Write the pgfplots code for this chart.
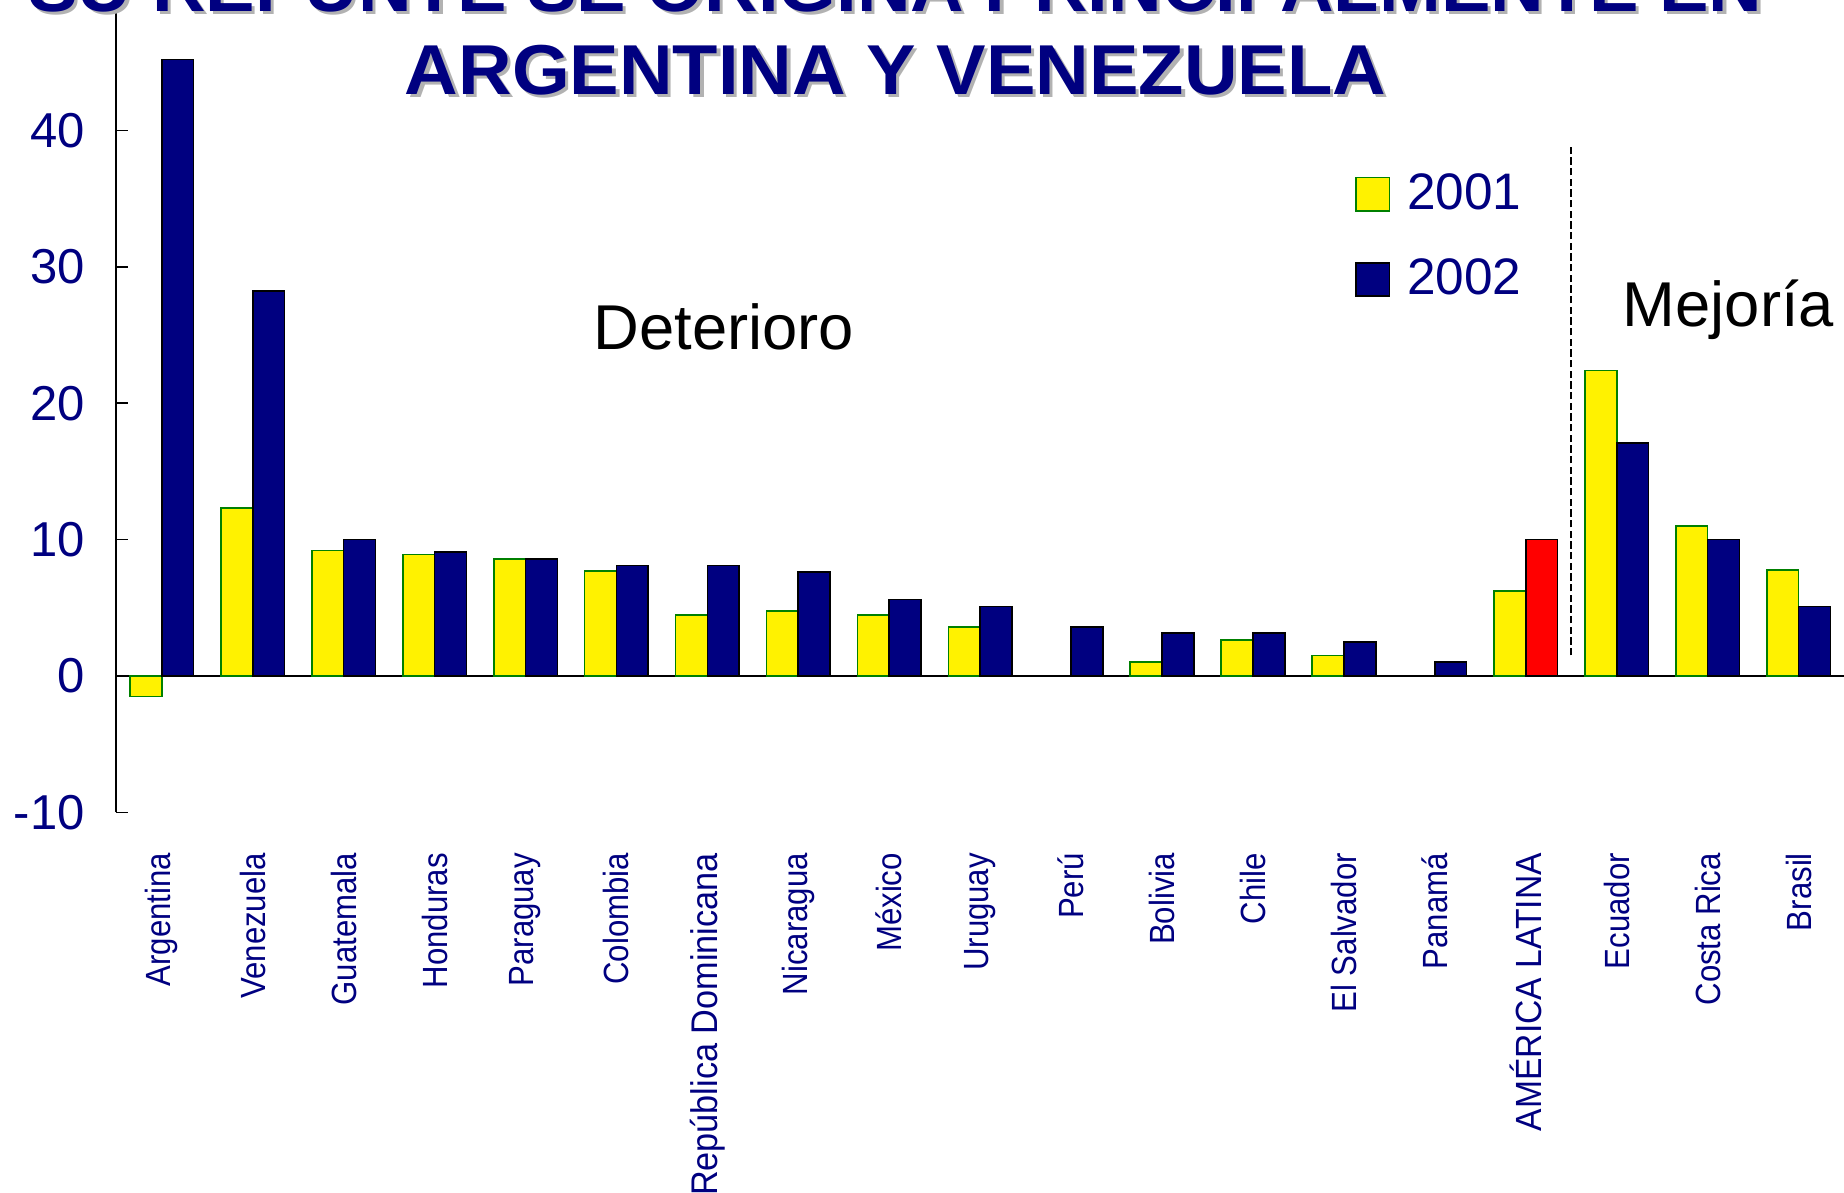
\documentclass[border=0pt]{standalone}
\usepackage{fontspec}
\setmainfont{Liberation Sans}
\newfontfamily\narrowfont[FakeStretch=0.89]{Liberation Sans}
\usepackage{graphicx}
\usepackage{pgfplots}
\pgfplotsset{compat=1.18}
\definecolor{navy}{RGB}{0,0,128}
\definecolor{dkgreen}{RGB}{0,128,0}

\begin{document}
\begin{tikzpicture}
\begin{axis}[
    name=ax,
    scale only axis, width=518.3pt, height=243.7pt,
    xmin=-0.5, xmax=18.5, ymin=-10, ymax=49.56,
    clip=false,
    axis x line=bottom, axis y line=left,
    axis line style={-, black, line width=0.5pt},
    x axis line style={draw=none},
    xtick={0,...,18},
    xticklabels={Argentina,Venezuela,Guatemala,Honduras,Paraguay,Colombia,
        {\scalebox{1.1}[1.06]{República Dominicana}\hspace{5pt}},Nicaragua,México,Uruguay,Perú,Bolivia,Chile,El Salvador,Panamá,
        {\scalebox{1.08}[1.04]{AMÉRICA LATINA}\hspace{5pt}},Ecuador,Costa Rica,Brasil},
    xtick style={draw=none},
    xticklabel style={yshift=-8.7pt, rotate=90, anchor=east, text=navy, font=\narrowfont\fontsize{10.5}{12}\selectfont},
    ytick={-10,0,10,20,30,40},
    tick align=inside, major tick length=3.5pt,
    ytick style={black, line width=0.5pt},
    yticklabel style={xshift=-6pt, text=navy, font=\fontsize{14.7}{16}\selectfont},
    /pgf/number format/assume math mode=true,
    extra y ticks={0}, extra y tick labels={},
    extra y tick style={grid=major, major grid style={black, line width=0.6pt}},
    legend style={draw=none, fill=none, inner sep=0pt, at={(axis cs:13.12,37.35)}, anchor=north west,
        font=\fontsize{15.4}{18}\selectfont, text=navy, row sep=9.3pt},
    legend cell align=left,
    legend image code/.code={\draw[#1] (0pt,-5pt) rectangle (10pt,5pt); \path (13pt,0pt);},
]
% 2001
\addplot[ybar, bar width=0.35, bar shift=-0.175, fill=yellow, draw=dkgreen, line width=0.5pt] coordinates {
    (0,-1.5) (1,12.3) (2,9.2) (3,8.9) (4,8.55) (5,7.7) (6,4.45) (7,4.75) (8,4.45) (9,3.6)
    (11,1.0) (12,2.65) (13,1.5) (15,6.25) (16,22.4) (17,11.0) (18,7.75)
};
\addlegendentry{2001}
% 2002
\addplot[ybar, bar width=0.35, bar shift=0.175, fill=navy, draw=black, line width=0.5pt] coordinates {
    (0,45.2) (1,28.2) (2,10.0) (3,9.1) (4,8.55) (5,8.1) (6,8.1) (7,7.6) (8,5.6) (9,5.1)
    (10,3.6) (11,3.15) (12,3.15) (13,2.5) (14,1.0) (16,17.1) (17,10.0) (18,5.1)
};
\addlegendentry{2002}
% America Latina 2002 in red
\addplot[ybar, bar width=0.35, bar shift=0.175, fill=red, draw=black, line width=0.5pt, forget plot] coordinates {
    (15,10.0)
};
\addplot[black, line width=0.5pt, dash pattern=on 2.2pt off 1pt, forget plot] coordinates {(15.5,1.5) (15.5,39)};

\node[anchor=base, font=\fontsize{19}{22}\selectfont] at (axis cs:6.18,23.9) {Deterioro};
\node[anchor=base, font=\fontsize{19}{22}\selectfont] at (axis cs:17.23,25.6) {Mejoría};

% title (first line is cut by the top edge)
\node[anchor=base, text=black!30, font=\fontsize{21.2}{25}\selectfont\bfseries]
    at ([xshift=1pt,yshift=-1pt]rel axis cs:0.451,0.986) {\scalebox{1.05}[1]{SU REPUNTE SE ORIGINA PRINCIPALMENTE EN}};
\node[anchor=base, text=navy, font=\fontsize{21.2}{25}\selectfont\bfseries]
    at (rel axis cs:0.451,0.986) {\scalebox{1.05}[1]{SU REPUNTE SE ORIGINA PRINCIPALMENTE EN}};
\node[anchor=base, text=black!30, font=\fontsize{21.2}{25}\selectfont\bfseries]
    at ([xshift=1pt,yshift=-1pt]rel axis cs:0.451,0.884) {\scalebox{1.05}[1]{ARGENTINA Y VENEZUELA}};
\node[anchor=base, text=navy, font=\fontsize{21.2}{25}\selectfont\bfseries]
    at (rel axis cs:0.451,0.884) {\scalebox{1.05}[1]{ARGENTINA Y VENEZUELA}};
\end{axis}
\pgfresetboundingbox
\path[use as bounding box] ([xshift=-34.9pt,yshift=-114.2pt]ax.south west) rectangle (ax.north east);
\end{tikzpicture}
\end{document}
